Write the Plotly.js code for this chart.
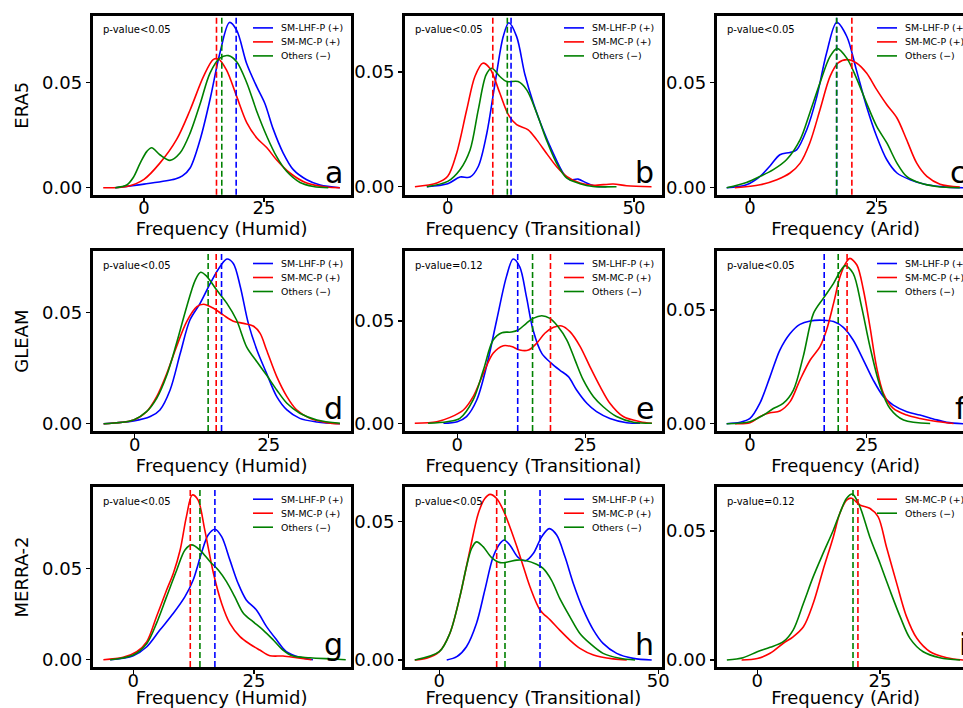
<!DOCTYPE html>
<html><head><meta charset="utf-8">
<script src="https://cdn.plot.ly/plotly-3.0.1.min.js"></script>
<style>html,body{margin:0;padding:0;overflow:hidden;background:#fff}#chart{width:1000px;height:708px}</style>
</head><body><div id="chart"></div>
<script>
const products = ['ERA5', 'GLEAM', 'MERRA-2'];
const regions = ['Humid', 'Transitional', 'Arid'];
const panelLetters = ['a', 'b', 'c', 'd', 'e', 'f', 'g', 'h', 'i'];
const pValueText = ['p-value<0.05', 'p-value<0.05', 'p-value<0.05', 'p-value<0.05', 'p-value=0.12', 'p-value<0.05', 'p-value<0.05', 'p-value<0.05', 'p-value=0.12'];
const seriesNames = ['SM-LHF-P (+)', 'SM-MC-P (+)', 'Others (\u2212)'];
const seriesColors = ['#0000ff', '#ff0000', '#008000'];

// mean (dashed) lines per panel a..i
const mean_lhf = [19.2, 17.0, 17.1, 16.2, 11.8, 15.9, 16.9, 23.0, null];
const mean_mc = [15.1, 12.1, 20.1, 15.2, 18.2, 20.8, 11.8, 13.1, 20.5];
const mean_oth = [16.2, 16.0, 17.1, 13.7, 14.7, 18.9, 13.8, 15.0, 19.5];

// x tick values per panel
const xTickVals = [[0, 25], [0, 50], [0, 25], [0, 25], [0, 25], [0, 25], [0, 25], [0, 50], [0, 25]];
const yTickVals = [0, 0.05];

// ---- panel a: ERA5 Humid
const a_lhf_x = [-6, 0, 6.5, 8, 9.6, 11.7, 13.75, 15.8, 17.8, 19.3, 21.4, 23.5, 25.2, 26.9, 29, 31.1, 33.9, 36.7, 40.8];
const a_lhf_y = [0, 0.0017, 0.0041, 0.0056, 0.0094, 0.023, 0.042, 0.064, 0.0787, 0.075, 0.059, 0.048, 0.040, 0.028, 0.0165, 0.0086, 0.0038, 0.0013, 0];
const a_mc_x = [-8.5, -3.6, 0, 3.3, 6.8, 9.6, 12.4, 14.4, 15.5, 17.2, 19.3, 21.4, 23.5, 25.6, 27.6, 30.4, 33.9, 38, 40.8];
const a_mc_y = [0, 0.0006, 0.004, 0.0117, 0.023, 0.037, 0.053, 0.061, 0.0613, 0.056, 0.0435, 0.031, 0.0237, 0.019, 0.0133, 0.007, 0.0022, 0.0003, 0];
const a_oth_x = [-6, -3.6, -2.2, -0.8, 0.6, 1.6, 3.3, 5.4, 7.5, 9.6, 11.7, 13.75, 15.8, 17.6, 19.3, 21.4, 23.5, 25.6, 27.6, 29.7, 32.5, 35.3, 38.4];
const a_oth_y = [0, 0.0013, 0.005, 0.0117, 0.0173, 0.019, 0.0157, 0.013, 0.0165, 0.026, 0.040, 0.0546, 0.0617, 0.0629, 0.060, 0.050, 0.0363, 0.0244, 0.0149, 0.0078, 0.0025, 0.0006, 0];

// ---- panel b: ERA5 Transitional
const b_lhf_x = [-5.6, 0, 3.3, 6, 8.2, 10.5, 12.7, 14.9, 16.4, 18.5, 20.7, 23, 25.6, 28.3, 31, 32.8, 35, 37.3, 40, 42.6];
const b_lhf_y = [0, 0.0013, 0.0042, 0.0042, 0.0088, 0.0233, 0.045, 0.0654, 0.0714, 0.0654, 0.049, 0.0364, 0.0248, 0.0146, 0.0059, 0.003, 0.0033, 0.0016, 0.0001, 0];
const b_mc_x = [-8.8, -2.9, 0, 2.4, 5.1, 7.3, 9.4, 11.3, 14, 16.3, 18.5, 21.6, 23.9, 26.5, 29.2, 31.9, 35.5, 39, 44.4, 48, 54.7];
const b_mc_y = [0, 0.0016, 0.0045, 0.0146, 0.0335, 0.048, 0.0538, 0.0516, 0.0407, 0.0313, 0.027, 0.0248, 0.0204, 0.0146, 0.0088, 0.0045, 0.0016, 0.0006, 0.0012, 0.0004, 0];
const b_oth_x = [-5.6, 0, 3.3, 6, 8.2, 10.3, 11.8, 14, 15.8, 18.9, 21.2, 23.9, 26.5, 29.2, 31.9, 35.5, 39, 45.3];
const b_oth_y = [0, 0.0023, 0.0074, 0.016, 0.0335, 0.0487, 0.0516, 0.048, 0.0458, 0.0458, 0.0422, 0.032, 0.0204, 0.0103, 0.0038, 0.0013, 0.0001, 0];

// ---- panel c: ERA5 Arid
const c_lhf_x = [-4.6, -0.7, 2, 3.9, 5.9, 7.9, 9.2, 11.2, 13.2, 15.1, 17.1, 19.1, 21, 23, 25, 27, 29, 31.6, 34.9, 38.8, 42.2];
const c_lhf_y = [0, 0.0014, 0.0054, 0.0102, 0.0157, 0.0168, 0.018, 0.0276, 0.0435, 0.064, 0.0787, 0.072, 0.056, 0.0387, 0.0244, 0.0133, 0.007, 0.0038, 0.0014, 0.0003, 0];
const c_mc_x = [-3, 2, 5.3, 7.9, 9.9, 11.8, 13.8, 15.8, 17.4, 19.1, 21, 23, 25, 27, 29, 30.9, 32.9, 34.9, 37.5, 41.4];
const c_mc_y = [0, 0.0014, 0.0038, 0.007, 0.0117, 0.0213, 0.037, 0.053, 0.0594, 0.061, 0.0594, 0.0546, 0.0467, 0.0395, 0.0332, 0.0229, 0.0117, 0.0054, 0.0017, 0.0003];
const c_oth_x = [-4.6, -0.7, 2, 4.6, 7.2, 9.9, 11.8, 13.8, 15.8, 17.2, 19.1, 21, 23, 25, 27, 29, 30.9, 33.6, 36.8, 41.4];
const c_oth_y = [0, 0.0025, 0.0054, 0.0086, 0.0133, 0.0229, 0.0356, 0.0498, 0.0625, 0.0662, 0.0617, 0.0522, 0.0403, 0.0292, 0.0213, 0.0117, 0.0054, 0.0022, 0.0006, 0];

// ---- panel d: GLEAM Humid
const d_lhf_x = [-5.8, -0.2, 2.9, 4.7, 6.6, 8.5, 10.3, 12.2, 14.1, 15.9, 17.2, 18.4, 19.7, 21.2, 22.8, 24.6, 26.5, 28.4, 30.8, 34, 38.3];
const d_lhf_y = [0, 0.0012, 0.0032, 0.0062, 0.0152, 0.0317, 0.0467, 0.0542, 0.0632, 0.0707, 0.0742, 0.0722, 0.0617, 0.0452, 0.0332, 0.0227, 0.0122, 0.0062, 0.0024, 0.0008, 0];
const d_mc_x = [-5.8, -0.2, 2.2, 4.1, 6, 7.8, 9.7, 11.6, 12.8, 14.7, 16.5, 18.4, 20.3, 22.1, 23.4, 24.6, 26.5, 28.4, 30.2, 32.7, 35.8, 38.3];
const d_mc_y = [0, 0.0017, 0.0054, 0.0122, 0.0227, 0.0347, 0.046, 0.0527, 0.0538, 0.052, 0.049, 0.0462, 0.0452, 0.044, 0.0407, 0.0332, 0.0212, 0.0122, 0.0062, 0.0024, 0.0005, 0];
const d_oth_x = [-5.8, -0.2, 2.2, 4.1, 6, 7.8, 9.7, 11.3, 12.3, 13.4, 15.3, 17.2, 19, 20.9, 22.8, 24.6, 26.5, 28.4, 30.8, 34, 38.3];
const d_oth_y = [0, 0.0017, 0.0054, 0.0114, 0.0219, 0.0362, 0.0527, 0.0647, 0.0682, 0.0665, 0.0602, 0.0542, 0.0467, 0.0345, 0.0279, 0.0219, 0.0152, 0.0092, 0.0047, 0.0017, 0.0002];

// ---- panel e: GLEAM Transitional
const e_lhf_x = [-2.7, 0, 1.8, 3.8, 5.7, 7.7, 9.6, 10.9, 12.2, 13.5, 14.8, 16.5, 18.4, 20, 21.7, 23.3, 25.3, 27.2, 29.8, 33.1, 35.7];
const e_lhf_y = [0, 0.0008, 0.0033, 0.0114, 0.0277, 0.0505, 0.0717, 0.0803, 0.0765, 0.0619, 0.0456, 0.0342, 0.0293, 0.026, 0.0228, 0.0163, 0.0098, 0.0057, 0.0024, 0.0003, 0];
const e_mc_x = [-8.3, -4, -1.4, 1.2, 3.1, 5.1, 7, 9, 10.6, 12.2, 13.9, 15.5, 17.1, 18.8, 20.4, 22, 24, 25.9, 27.9, 29.8, 32.4, 35.7, 38];
const e_mc_y = [0, 0.0008, 0.0029, 0.0065, 0.013, 0.0244, 0.0342, 0.0379, 0.0375, 0.0358, 0.0358, 0.0391, 0.044, 0.0469, 0.0476, 0.0448, 0.0375, 0.0277, 0.0179, 0.0098, 0.0033, 0.0008, 0];
const e_oth_x = [-5.7, -2, 0.5, 3.1, 5.1, 7, 8.7, 10.6, 11.9, 13.5, 14.8, 16.5, 18.1, 19.7, 21.4, 23, 24.6, 26.6, 28.5, 31.1, 34.4, 38];
const e_oth_y = [0, 0.0008, 0.0024, 0.0114, 0.026, 0.0407, 0.0443, 0.0446, 0.0456, 0.0489, 0.0513, 0.0526, 0.0513, 0.0472, 0.0407, 0.0309, 0.0212, 0.013, 0.0081, 0.0033, 0.0005, 0];

// ---- panel f: GLEAM Arid
const f_lhf_x = [-5, -2.1, 0, 2.1, 4.3, 6.4, 8.6, 10.7, 12.9, 15.7, 17.9, 20, 22.1, 24.3, 26.4, 28.6, 30.7, 33.6, 36.4, 39.3, 42.1, 45.7];
const f_lhf_y = [0, 0.0006, 0.0023, 0.0089, 0.0207, 0.0324, 0.0397, 0.0437, 0.0452, 0.0455, 0.0449, 0.0424, 0.0368, 0.028, 0.0192, 0.0119, 0.0082, 0.0053, 0.0038, 0.0021, 0.0006, 0];
const f_mc_x = [-3.2, 0, 2.1, 4.3, 6.4, 8.6, 10.7, 12.9, 15, 16.4, 17.9, 19.3, 20.7, 21.4, 22.9, 24.3, 25.7, 27.1, 28.6, 30.7, 33.6, 36.4, 39.3, 43.6];
const f_mc_y = [0, 0.0004, 0.0031, 0.0048, 0.0056, 0.0097, 0.0192, 0.028, 0.0339, 0.0412, 0.0529, 0.0647, 0.0713, 0.0727, 0.0698, 0.0588, 0.0427, 0.0251, 0.0133, 0.0067, 0.0038, 0.0023, 0.0012, 0.0001];
const f_oth_x = [-5, 0, 2.9, 5, 7.1, 9.3, 11.4, 13.6, 15.7, 17.9, 19.3, 20.4, 22.1, 23.9, 25.7, 27.9, 30, 32.9, 38.6];
const f_oth_y = [0, 0.0009, 0.0038, 0.0067, 0.0089, 0.0148, 0.0295, 0.0485, 0.0551, 0.0617, 0.0669, 0.0695, 0.0661, 0.0515, 0.0339, 0.0163, 0.0067, 0.0016, 0.0001];

// ---- panel g: MERRA-2 Humid
const g_lhf_x = [-4.8, 0, 2.8, 5.5, 8.3, 10.7, 12.4, 14.1, 15.5, 16.9, 18.3, 20, 21.7, 23.4, 25.5, 27.6, 29.7, 31.7, 34.5, 37.2];
const g_lhf_y = [0, 0.0022, 0.0071, 0.0162, 0.0254, 0.0345, 0.0436, 0.0582, 0.0682, 0.0714, 0.0673, 0.0546, 0.0418, 0.0327, 0.0272, 0.0181, 0.0108, 0.0044, 0.0013, 0];
const g_mc_x = [-6.2, -2.1, 0.7, 2.8, 4.8, 6.9, 8.3, 9.7, 11, 12.2, 13.4, 14.8, 16.6, 18.3, 20, 22.1, 24.1, 26.2, 28.3, 31, 33.8, 36.9];
const g_mc_y = [0, 0.0013, 0.0044, 0.0099, 0.0235, 0.0381, 0.0473, 0.06, 0.0783, 0.0901, 0.0874, 0.071, 0.0473, 0.0308, 0.0199, 0.0126, 0.0086, 0.0053, 0.0022, 0.002, 0.0011, 0];
const g_oth_x = [-4.8, 0, 2.8, 4.8, 6.9, 9, 10.7, 12.1, 13.8, 15.9, 17.6, 19.3, 21, 22.8, 24.8, 26.9, 29, 31, 33.1, 36.6, 41.4, 44];
const g_oth_y = [0, 0.0026, 0.0089, 0.0199, 0.0345, 0.0491, 0.06, 0.0628, 0.06, 0.0536, 0.0491, 0.0427, 0.0345, 0.0254, 0.0208, 0.0162, 0.0108, 0.0053, 0.002, 0.0011, 0.0004, 0];

// ---- panel h: MERRA-2 Transitional
const h_lhf_x = [1.7, 4, 6.2, 8.5, 10.4, 12.3, 13.9, 14.8, 16.1, 18, 19.7, 21.5, 23.4, 25.1, 26.8, 28.7, 30.6, 32.9, 35.2, 37.4, 40.5, 44.3, 48.5];
const h_lhf_y = [0, 0.0012, 0.0048, 0.0133, 0.0253, 0.0373, 0.0422, 0.0434, 0.0416, 0.0371, 0.0359, 0.0386, 0.0446, 0.0475, 0.0452, 0.0373, 0.0277, 0.0181, 0.0108, 0.006, 0.0024, 0.0006, 0];
const h_mc_x = [-5.6, -2.9, 0, 2.4, 4.7, 7, 8.9, 10.4, 11.6, 13.1, 14.6, 16.1, 17.7, 19.2, 20.7, 23, 25.3, 27.5, 29.8, 32.1, 35.2, 39.7, 42.8];
const h_mc_y = [0, 0.0006, 0.003, 0.0096, 0.0229, 0.0398, 0.053, 0.0584, 0.0599, 0.0584, 0.0542, 0.0482, 0.041, 0.0337, 0.0265, 0.0181, 0.0145, 0.0108, 0.0072, 0.0042, 0.0018, 0.0004, 0];
const h_oth_x = [-5.6, 0, 2.4, 4.7, 6.2, 7.4, 8.5, 10, 11.9, 13.9, 15.8, 17.7, 19.9, 22.2, 23.7, 25.6, 27.5, 29.8, 32.1, 34.4, 37.4, 41.2, 44.7];
const h_oth_y = [0, 0.003, 0.0096, 0.0229, 0.0337, 0.0404, 0.0427, 0.041, 0.0371, 0.0352, 0.0355, 0.0361, 0.0359, 0.0346, 0.0331, 0.0289, 0.0223, 0.0157, 0.0096, 0.006, 0.0024, 0.0006, 0];

// ---- panel i: MERRA-2 Arid (no SM-LHF-P series)
const i_mc_x = [-3.2, 0, 2.6, 5.3, 7.3, 9.4, 11.4, 13.4, 15.5, 16.8, 18.2, 19.2, 20.9, 22.9, 24.6, 26.3, 28.4, 30.4, 32.5, 35.2, 38.6, 42];
const i_mc_y = [0, 0.0006, 0.0026, 0.0065, 0.009, 0.0129, 0.022, 0.0349, 0.0478, 0.0568, 0.062, 0.0627, 0.0601, 0.0588, 0.0556, 0.0439, 0.0297, 0.0168, 0.0084, 0.0032, 0.0009, 0];
const i_oth_x = [-6.2, -2.9, 0, 2.6, 5.3, 7.3, 9.4, 11.4, 13.4, 15.5, 16.8, 18.2, 19.4, 20.9, 22.9, 25, 27, 29.1, 31.1, 33.8, 37.2, 41.3];
const i_oth_y = [0, 0.0009, 0.0032, 0.0049, 0.0071, 0.0116, 0.022, 0.0323, 0.0413, 0.0504, 0.0568, 0.0627, 0.0643, 0.0594, 0.0478, 0.0375, 0.0271, 0.0168, 0.0084, 0.0032, 0.0009, 0];

const curveX = [
  [a_lhf_x, a_mc_x, a_oth_x], [b_lhf_x, b_mc_x, b_oth_x], [c_lhf_x, c_mc_x, c_oth_x],
  [d_lhf_x, d_mc_x, d_oth_x], [e_lhf_x, e_mc_x, e_oth_x], [f_lhf_x, f_mc_x, f_oth_x],
  [g_lhf_x, g_mc_x, g_oth_x], [h_lhf_x, h_mc_x, h_oth_x], [null, i_mc_x, i_oth_x]];
const curveY = [
  [a_lhf_y, a_mc_y, a_oth_y], [b_lhf_y, b_mc_y, b_oth_y], [c_lhf_y, c_mc_y, c_oth_y],
  [d_lhf_y, d_mc_y, d_oth_y], [e_lhf_y, e_mc_y, e_oth_y], [f_lhf_y, f_mc_y, f_oth_y],
  [g_lhf_y, g_mc_y, g_oth_y], [h_lhf_y, h_mc_y, h_oth_y], [null, i_mc_y, i_oth_y]];
const means = [mean_lhf, mean_mc, mean_oth];

// ---- layout geometry (pixels) ----
const W = 1000, H = 708;
const colPx = [[92.7, 350.7], [405, 661.7], [716.7, 974.7]];
const rowPx = [[15.7, 194.7], [251.3, 431], [487, 667]];
const xRanges = [[-10.69, 43.06], [-11.46, 57.43], [-6.57, 44.34], [-7.84, 40.30], [-10.21, 39.92], [-7.13, 48.14], [-8.41, 45.03], [-7.83, 50.78], [-8.27, 44.29]];
const yRanges = [[-0.00333, 0.0819], [-0.00349, 0.0745], [-0.00333, 0.0819], [-0.00329, 0.07766], [-0.00376, 0.08407], [-0.00321, 0.07582], [-0.00399, 0.09447], [-0.00253, 0.06255], [-0.00271, 0.06705]];

const FONT = 'DejaVu Sans';
const traces = [];
const shapes = [];
const annotations = [];
const layout = {
  width: W, height: H,
  margin: {l: 0, r: 0, t: 0, b: 0, pad: 0},
  paper_bgcolor: '#ffffff', plot_bgcolor: '#ffffff',
  font: {family: FONT, color: '#000000'},
  showlegend: false
};

for (let p = 0; p < 9; p++) {
  const row = Math.floor(p / 3), col = p % 3;
  const s = p === 0 ? '' : String(p + 1);
  const xa = 'x' + s, ya = 'y' + s;
  const [px0, px1] = colPx[col];
  const [py0, py1] = rowPx[row];
  const w = px1 - px0, h = py1 - py0;

  layout['xaxis' + s] = {
    domain: [px0 / W, px1 / W], anchor: ya, range: xRanges[p],
    tickmode: 'array', tickvals: xTickVals[p],
    ticks: 'outside', ticklen: 4, tickwidth: 1.5, tickcolor: '#000',
    ticklabelstandoff: -9,
    tickfont: {size: 18, family: FONT, color: '#000'},
    showline: true, linewidth: 3, linecolor: '#000', mirror: true,
    showgrid: false, zeroline: false, automargin: false, fixedrange: true,
    title: {text: 'Frequency (' + regions[col] + ')', font: {size: 18, family: FONT, color: '#000'}, standoff: 4}
  };
  layout['yaxis' + s] = {
    domain: [1 - py1 / H, 1 - py0 / H], anchor: xa, range: yRanges[p],
    tickmode: 'array', tickvals: yTickVals, tickformat: '.2f',
    ticks: 'outside', ticklen: 4, tickwidth: 1.5, tickcolor: '#000',
    tickfont: {size: 18, family: FONT, color: '#000'},
    showline: true, linewidth: 3, linecolor: '#000', mirror: true,
    showgrid: false, zeroline: false, automargin: false, fixedrange: true,
    title: col === 0 ? {text: products[row], font: {size: 18, family: FONT, color: '#000'}, standoff: 9} : {text: ''}
  };

  // density curves
  for (let k = 0; k < 3; k++) {
    if (!curveX[p][k]) continue;
    traces.push({
      type: 'scatter', mode: 'lines', x: curveX[p][k], y: curveY[p][k],
      xaxis: xa, yaxis: ya, name: seriesNames[k], showlegend: false, hoverinfo: 'skip',
      line: {color: seriesColors[k], width: 1.6, shape: 'spline', smoothing: 0.9}
    });
  }
  // mean lines
  for (let k = 0; k < 3; k++) {
    const m = means[k][p];
    if (m === null || m === undefined) continue;
    shapes.push({type: 'line', xref: xa, yref: ya + ' domain', x0: m, x1: m, y0: 0, y1: 1,
      line: {color: seriesColors[k], width: 1.6, dash: '6px,3px'}});
  }
  // legend (drawn inside top-right)
  let j = 0;
  for (let k = 0; k < 3; k++) {
    if (!curveX[p][k]) continue;
    const yy = 1 - (12.2 + 14 * j) / h;
    shapes.push({type: 'line', xref: xa + ' domain', yref: ya + ' domain',
      x0: 1 - 97.7 / w, x1: 1 - 77.7 / w, y0: yy, y1: yy,
      line: {color: seriesColors[k], width: 1.6}});
    annotations.push({xref: xa + ' domain', yref: ya + ' domain', x: 1 - 72 / w, y: yy,
      xanchor: 'left', yanchor: 'middle', showarrow: false, text: seriesNames[k],
      font: {size: 9.4, family: FONT, color: '#000'}});
    j++;
  }
  // p-value text
  annotations.push({xref: xa + ' domain', yref: ya + ' domain', x: 8 / w, y: 1 - 14 / h,
    xanchor: 'left', yanchor: 'middle', showarrow: false, text: pValueText[p],
    font: {size: 10, family: FONT, color: '#000'}});
  // panel letter
  annotations.push({xref: xa + ' domain', yref: ya + ' domain', x: 1 - 6 / w, y: 2.7 / h,
    xanchor: 'right', yanchor: 'bottom', showarrow: false, text: panelLetters[p],
    font: {size: 30, family: FONT, color: '#000'}});
}
layout.shapes = shapes;
layout.annotations = annotations;

Plotly.newPlot('chart', traces, layout, {displayModeBar: false, staticPlot: true});
</script>
</body></html>
